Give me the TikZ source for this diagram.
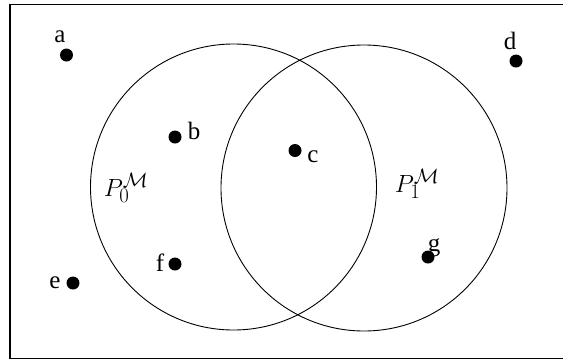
\documentclass[tikz,border=0pt]{standalone}
\usepackage{fontspec}
\setmainfont{Liberation Serif}
\begin{document}
\begin{tikzpicture}[x=1pt,y=-1pt,
  dot/.style={circle,fill=black,inner sep=0pt,minimum size=13pt},
  lbl/.style={inner sep=0pt,font=\fontsize{25}{30}\selectfont},
  mlbl/.style={inner sep=0pt,font=\fontsize{28}{32}\selectfont},
  setcirc/.style={draw,circle,line width=0.9pt,inner sep=0pt,minimum size=286pt}]
\useasboundingbox (0,0) rectangle (563,360);
\draw[line width=1.3pt] (10,4.5) rectangle (570,358.7);
\node[setcirc] (P0) at (233.5,187) {};
\node[setcirc] (P1) at (364,188) {};
\node[mlbl] (P0l) at (126,188) {$P_0^{\mathcal{M}}$};
\node[mlbl] (P1l) at (417,184) {$P_1^{\mathcal{M}}$};
\node[dot] (a) at (66.5,55) {};
\node[lbl] (la) at (60,37) {a};
\node[dot] (d) at (516,61) {};
\node[lbl] (ld) at (510,41) {d};
\node[dot] (b) at (175,137) {};
\node[lbl] (lb) at (194,131) {b};
\node[dot] (c) at (295,150.5) {};
\node[lbl] (lc) at (313,157) {c};
\node[dot] (f) at (175,264) {};
\node[lbl] (lf) at (160,263) {f};
\node[dot] (e) at (73,283) {};
\node[lbl] (le) at (55,283) {e};
\node[dot] (g) at (428,257) {};
\node[lbl] (lg) at (434,248) {g};
\end{tikzpicture}
\end{document}
